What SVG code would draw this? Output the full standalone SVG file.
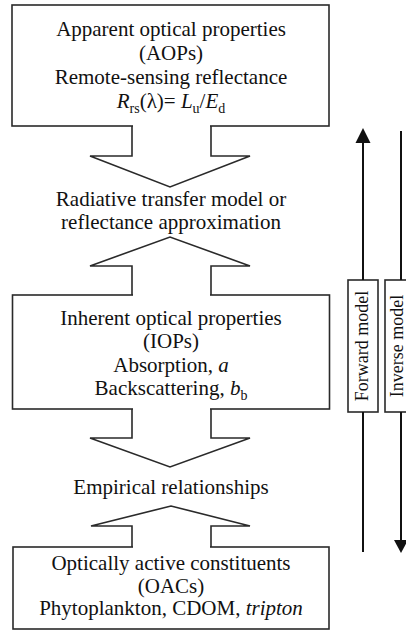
<svg xmlns="http://www.w3.org/2000/svg" width="406" height="631" viewBox="0 0 406 631">
<style>
.box{fill:#fff;stroke:#2a2a2a;stroke-width:1.6}
.ar{fill:none;stroke:#2a2a2a;stroke-width:1.6;stroke-linejoin:miter}
.cover{fill:#fff;stroke:none}
text{font-family:'Liberation Serif','DejaVu Serif',serif;fill:#111;text-anchor:middle}
.t{font-size:21px}
.v{font-size:18px}
.i{font-style:italic}
.s{font-size:14px}
.ln{stroke:#111;stroke-width:2;fill:none}
.hd{fill:#111;stroke:none}
</style>
<rect width="406" height="631" fill="#fff"/>
<g id="aops">
<rect class="box" x="12" y="5" width="317" height="121"/>
<text class="t" x="171" y="36" font-family="Liberation Serif, serif">Apparent optical properties</text>
<text class="t" x="171" y="60" font-family="Liberation Serif, serif">(AOPs)</text>
<text class="t" x="171" y="84" font-family="Liberation Serif, serif">Remote-sensing reflectance</text>
<text class="t" x="171" y="108" font-family="Liberation Serif, serif"><tspan class="i">R</tspan><tspan class="s" dy="5">rs</tspan><tspan dy="-5">(λ)= </tspan><tspan class="i">L</tspan><tspan class="s" dy="5">u</tspan><tspan dy="-5">/</tspan><tspan class="i">E</tspan><tspan class="s" dy="5">d</tspan></text>
</g>
<g id="rt-model">
<text class="t" x="171" y="206" font-family="Liberation Serif, serif">Radiative transfer model or</text>
<text class="t" x="171" y="229" font-family="Liberation Serif, serif">reflectance approximation</text>
</g>
<g id="iops">
<rect class="box" x="12.5" y="295" width="317" height="114"/>
<text class="t" x="171" y="325" font-family="Liberation Serif, serif">Inherent optical properties</text>
<text class="t" x="171" y="348" font-family="Liberation Serif, serif">(IOPs)</text>
<text class="t" x="171" y="372" font-family="Liberation Serif, serif">Absorption, <tspan class="i">a</tspan></text>
<text class="t" x="171" y="395" font-family="Liberation Serif, serif">Backscattering, <tspan class="i">b</tspan><tspan class="s" dy="5">b</tspan></text>
</g>
<g id="empirical">
<text class="t" x="171" y="494" font-family="Liberation Serif, serif">Empirical relationships</text>
</g>
<g id="oacs">
<rect class="box" x="13" y="547" width="316" height="82"/>
<text class="t" x="171" y="570" font-family="Liberation Serif, serif">Optically active constituents</text>
<text class="t" x="171" y="593" font-family="Liberation Serif, serif">(OACs)</text>
<text class="t" x="171" y="615" font-family="Liberation Serif, serif">Phytoplankton, CDOM, <tspan class="i">tripton</tspan></text>
</g>
<g id="forward-label">
<rect class="box" x="348" y="280" width="30" height="132"/>
<text class="v" x="0" y="0" transform="translate(368,346) rotate(-90)" font-family="Liberation Serif, serif">Forward model</text>
</g>
<g id="inverse-label">
<rect class="box" x="385" y="280" width="30" height="132"/>
<text class="v" x="0" y="0" transform="translate(403,346) rotate(-90)" font-family="Liberation Serif, serif">Inverse model</text>
</g>
<g id="connectors">
<polygon class="cover" points="133,122 133,156 90,156 170,187 250,156 210,156 210,122"/>
<polyline class="ar" points="132,126 132,156 90,156 170,187 250,156 211,156 211,126"/>
<polygon class="cover" points="133,299 133,266 90,266 170,237 250,266 210,266 210,299"/>
<polyline class="ar" points="132,295 132,266 90,266 170,237 250,266 211,266 211,295"/>
<polygon class="cover" points="133,405 133,438 90,438 170,467 250,438 210,438 210,405"/>
<polyline class="ar" points="132,409 132,438 90,438 170,467 250,438 211,438 211,409"/>
<polygon class="cover" points="133,551 133,526 91,526 171,506 250,526 210,526 210,551"/>
<polyline class="ar" points="132,547 132,526 91,526 171,506 250,526 211,526 211,547"/>
<line class="ln" x1="363" y1="140" x2="363" y2="280"/>
<line class="ln" x1="363" y1="412" x2="363" y2="552"/>
<polygon class="hd" points="363,128 370.5,143 355.5,143"/>
<line class="ln" x1="401" y1="131" x2="401" y2="280"/>
<line class="ln" x1="401" y1="412" x2="401" y2="542"/>
<polygon class="hd" points="401,553 408,540 394,540"/>
</g>
</svg>
